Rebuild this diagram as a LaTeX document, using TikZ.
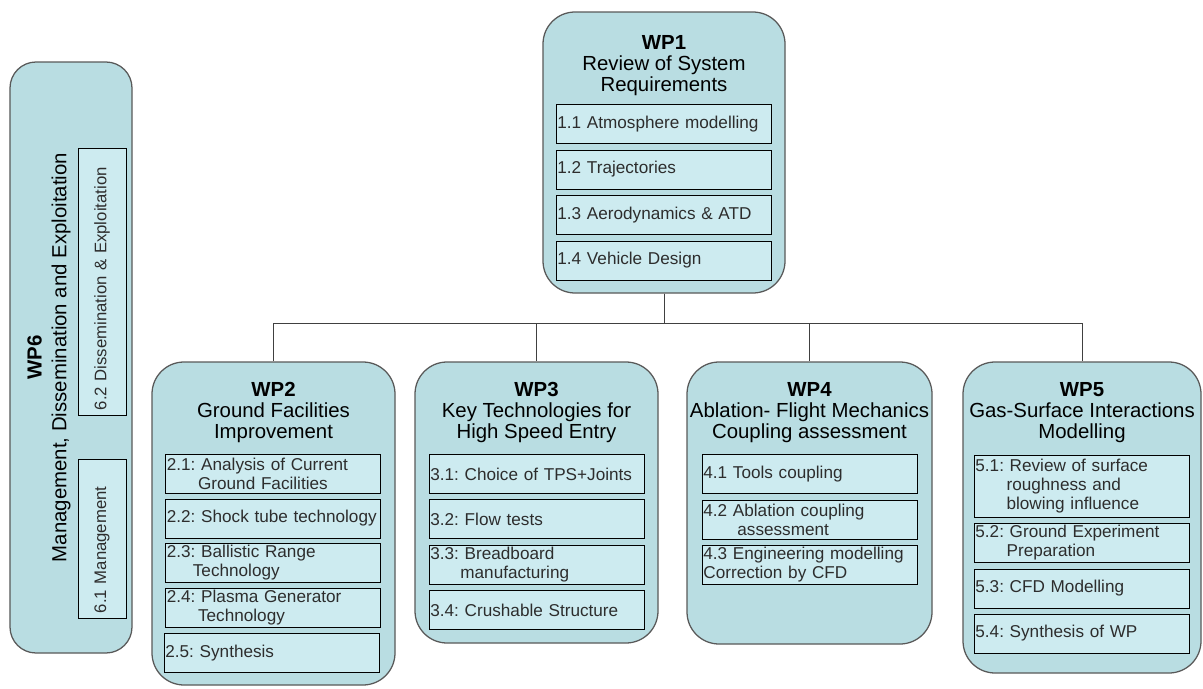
\documentclass[tikz,border=0pt]{standalone}
\usepackage{fontspec}
\setmainfont{Liberation Sans}
\usepackage{tikz}
\usetikzlibrary{shapes}
\hyphenpenalty=10000
\frenchspacing

\definecolor{wpfill}{RGB}{185,221,226}
\definecolor{taskfill}{RGB}{205,235,240}
\definecolor{tasktext}{RGB}{45,45,45}

\begin{document}
\begin{tikzpicture}
	\useasboundingbox (0,0) rectangle (30.075,-17.2);
	\tikzstyle{wp} = [rectangle,draw=black!65,line width=0.9pt,fill=wpfill,rounded corners=0.8cm,inner sep=0pt]
	\tikzstyle{wptitle} = [align=center,inner sep=0pt,font=\fontsize{14.5}{15}\selectfont]
	\tikzstyle{task} = [rectangle,draw=black,line width=0.5pt,fill=taskfill,text width=5.305cm,minimum height=0.975cm,inner xsep=1pt,inner ysep=0pt,align=left,text=tasktext,font=\fontsize{12.2}{13.5}\selectfont]
	\tikzstyle{vtask} = [task,rotate=90,minimum height=1.2cm,inner xsep=0.125cm,font=\fontsize{11.9}{13}\selectfont]
	\tikzstyle{wpline} = [draw=black!75,line width=0.6pt]
	
	% work package frames
	\node[wp,minimum width=3.05cm,minimum height=14.775cm,rounded corners=0.65cm] (WP6) at (1.775,-8.9375) {};
	\node[wp,minimum width=6.05cm,minimum height=7.025cm] (WP1) at (16.6,-3.8125) {};
	\node[wp,minimum width=6.075cm,minimum height=8.075cm] (WP2) at (6.8375,-13.0875) {};
	\node[wp,minimum width=6.075cm,minimum height=7.025cm] (WP3) at (13.4125,-12.5625) {};
	\node[wp,minimum width=6.125cm,minimum height=7.05cm] (WP4) at (20.2375,-12.575) {};
	\node[wp,minimum width=5.95cm,minimum height=7.775cm] (WP5) at (27.05,-12.9375) {};
	
	\draw[wpline] (WP1.south) -- ++(0,-0.75) -| (WP2.north);
	\draw[wpline] (WP1.south) -- ++(0,-0.75) -| (WP3.north);
	\draw[wpline] (WP1.south) -- ++(0,-0.75) -| (WP4.north);
	\draw[wpline] (WP1.south) -- ++(0,-0.75) -| (WP5.north);
	
	% titles
	\node[wptitle] (WP1t) at (16.6,-1.63) {\textbf{WP1}\\Review of System\\Requirements};
	\node[wptitle] (WP2t) at (6.8375,-10.32) {\textbf{WP2}\\Ground Facilities\\Improvement};
	\node[wptitle] (WP3t) at (13.4125,-10.32) {\textbf{WP3}\\Key Technologies for\\High Speed Entry};
	\node[wptitle] (WP4t) at (20.2375,-10.32) {\textbf{WP4}\\Ablation- Flight Mechanics\\Coupling assessment};
	\node[wptitle] (WP5t) at (27.05,-10.32) {\textbf{WP5}\\Gas-Surface Interactions\\Modelling};
	\node[wptitle,rotate=90,font=\fontsize{14.5}{17.5}\selectfont] (WP6t) at (1.225,-8.9375) {\textbf{WP6}\\Management, Dissemination and Exploitation};
	
	% WP1 tasks
	\node[task] (T11) at (16.5875,-3.1) {1.1 Atmosphere modelling};
	\node[task] (T12) at (16.5875,-4.2375) {1.2 Trajectories};
	\node[task] (T13) at (16.5875,-5.375) {1.3 Aerodynamics \& ATD};
	\node[task] (T14) at (16.5875,-6.5125) {1.4 Vehicle Design};
	
	% WP2 tasks
	\node[task] (T21) at (6.825,-11.85) {2.1: Analysis of Current\\\hspace*{0.78cm}Ground Facilities};
	\node[task] (T22) at (6.825,-12.9625) {2.2: Shock tube technology};
	\node[task] (T23) at (6.825,-14.075) {2.3: Ballistic Range\\\hspace*{0.65cm}Technology};
	\node[task] (T24) at (6.825,-15.2) {2.4: Plasma Generator\\\hspace*{0.78cm}Technology};
	\node[task] (T25) at (6.7875,-16.325) {2.5: Synthesis};
	
	% WP3 tasks
	\node[task] (T31) at (13.4125,-11.85) {3.1: Choice of TPS+Joints};
	\node[task] (T32) at (13.4125,-12.975) {3.2: Flow tests};
	\node[task] (T33) at (13.4125,-14.1125) {3.3: Breadboard\\\hspace*{0.75cm}manufacturing};
	\node[task] (T34) at (13.4125,-15.25) {3.4: Crushable Structure};
	
	% WP4 tasks
	\node[task] (T41) at (20.2375,-11.85) {4.1 Tools coupling};
	\node[task] (T42) at (20.2375,-12.9875) {4.2 Ablation coupling\\\hspace*{0.85cm}assessment};
	\node[task] (T43) at (20.2375,-14.1125) {4.3 Engineering modelling\\Correction by CFD};
	
	% WP5 tasks
	\node[task,minimum height=1.55cm] (T51) at (27.0375,-12.15) {5.1: Review of surface\\\hspace*{0.78cm}roughness and\\\hspace*{0.78cm}blowing influence};
	\node[task] (T52) at (27.0375,-13.5625) {5.2: Ground Experiment\\\hspace*{0.78cm}Preparation};
	\node[task] (T53) at (27.0375,-14.7125) {5.3: CFD Modelling};
	\node[task] (T54) at (27.0375,-15.8375) {5.4: Synthesis of WP};
	
	% WP6 tasks
	\node[vtask,text width=6.425cm] (T62) at (2.55,-7.0375) {6.2 Dissemination \& Exploitation};
	\node[vtask,text width=3.725cm] (T61) at (2.55,-13.4625) {6.1 Management};
\end{tikzpicture}
\end{document}
